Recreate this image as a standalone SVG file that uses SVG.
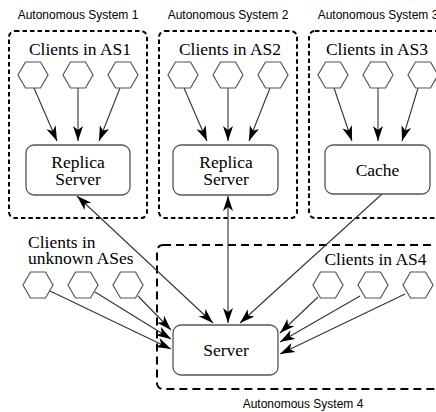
<svg xmlns="http://www.w3.org/2000/svg" xmlns:xlink="http://www.w3.org/1999/xlink" width="436" height="412" viewBox="0 0 436 412">
<style>
.as{fill:none;stroke:#000;stroke-width:2;stroke-dasharray:4.5 3}
.as4{fill:none;stroke:#000;stroke-width:2;stroke-dasharray:8 5}
.cap{font-family:'Liberation Sans',Arial,sans-serif;font-size:12px;fill:#000;text-anchor:middle}
.lbl{font-family:'Liberation Serif','DejaVu Serif',serif;font-size:17.5px;fill:#000}
.box{fill:#fff;stroke:#555;stroke-width:1.3}
.hex{fill:#fff;stroke:#555;stroke-width:1.2}
.t{font-family:'Liberation Serif','DejaVu Serif',serif;font-size:17.5px;fill:#000;text-anchor:middle}
.c{fill:none;stroke:#333;stroke-width:1.1}
.e{marker-end:url(#ah)}
.b{marker-start:url(#ah);marker-end:url(#ah)}
</style>
<defs>
<marker id="ah" markerUnits="userSpaceOnUse" markerWidth="16" markerHeight="11" refX="15" refY="5" orient="auto-start-reverse" viewBox="0 0 16 10">
<path d="M0,0 L15,5 L0,10 L4,5 z" fill="#000"/>
</marker>
<polygon id="hx" class="hex" points="-15,0 -7.5,-13 7.5,-13 15,0 7.5,13 -7.5,13"/>
</defs>
<rect width="436" height="412" fill="#fff"/>

<g id="as1">
<rect class="as" x="9" y="31" width="138" height="187" rx="6"/>
<text class="cap" x="78" y="18.5">Autonomous System 1</text>
</g>
<g id="as2">
<rect class="as" x="159" y="31" width="138" height="187" rx="6"/>
<text class="cap" x="228" y="18.5">Autonomous System 2</text>
</g>
<g id="as3">
<rect class="as" x="309" y="31" width="140" height="187" rx="6"/>
<text class="cap" x="378" y="18.5">Autonomous System 3</text>
</g>
<g id="as4">
<rect class="as4" x="157" y="245" width="300" height="144" rx="6"/>
<text class="cap" x="303" y="408">Autonomous System 4</text>
</g>

<g id="connectors">
<line class="c e" x1="34" y1="88" x2="57" y2="141"/>
<line class="c e" x1="78" y1="88" x2="78" y2="141"/>
<line class="c e" x1="120" y1="88" x2="99" y2="141"/>
<line class="c e" x1="184" y1="88" x2="207" y2="141"/>
<line class="c e" x1="228" y1="88" x2="228" y2="141"/>
<line class="c e" x1="270" y1="88" x2="249" y2="141"/>
<line class="c e" x1="334" y1="88" x2="352" y2="141"/>
<line class="c e" x1="378" y1="88" x2="378" y2="141"/>
<line class="c e" x1="418" y1="88" x2="402" y2="141"/>
<line class="c b" x1="77" y1="196" x2="213" y2="323"/>
<line class="c b" x1="228" y1="196" x2="228" y2="323"/>
<line class="c e" x1="382" y1="194" x2="240" y2="323"/>
<line class="c e" x1="50" y1="291" x2="171" y2="349"/>
<line class="c e" x1="95" y1="292" x2="171" y2="339"/>
<line class="c e" x1="138" y1="296" x2="171" y2="330"/>
<line class="c e" x1="318" y1="297" x2="280" y2="333"/>
<line class="c e" x1="360" y1="296" x2="280" y2="342"/>
<line class="c e" x1="405" y1="294" x2="280" y2="354"/>
</g>

<g id="clients-as1">
<text class="lbl" x="80" y="55" text-anchor="middle">Clients in AS1</text>
<use xlink:href="#hx" x="33" y="75"/>
<use xlink:href="#hx" x="78" y="75"/>
<use xlink:href="#hx" x="123" y="75"/>
</g>
<g id="clients-as2">
<text class="lbl" x="230" y="55" text-anchor="middle">Clients in AS2</text>
<use xlink:href="#hx" x="183" y="75"/>
<use xlink:href="#hx" x="228" y="75"/>
<use xlink:href="#hx" x="273" y="75"/>
</g>
<g id="clients-as3">
<text class="lbl" x="377" y="55" text-anchor="middle">Clients in AS3</text>
<use xlink:href="#hx" x="333" y="75"/>
<use xlink:href="#hx" x="378" y="75"/>
<use xlink:href="#hx" x="423" y="75"/>
</g>
<g id="clients-unknown">
<text class="lbl" x="28" y="248">Clients in</text>
<text class="lbl" x="28" y="264">unknown ASes</text>
<use xlink:href="#hx" x="38" y="285"/>
<use xlink:href="#hx" x="83" y="285"/>
<use xlink:href="#hx" x="128" y="285"/>
</g>
<g id="clients-as4">
<text class="lbl" x="375.5" y="265" text-anchor="middle">Clients in AS4</text>
<use xlink:href="#hx" x="328" y="285"/>
<use xlink:href="#hx" x="373" y="285"/>
<use xlink:href="#hx" x="418" y="285"/>
</g>

<g id="replica1">
<rect class="box" x="26" y="145" width="104" height="50" rx="8"/>
<text class="t" x="78" y="168">Replica</text>
<text class="t" x="78" y="185">Server</text>
</g>
<g id="replica2">
<rect class="box" x="173" y="145" width="105" height="50" rx="8"/>
<text class="t" x="226" y="168">Replica</text>
<text class="t" x="226" y="185">Server</text>
</g>
<g id="cache">
<rect class="box" x="325" y="145" width="105" height="49" rx="8"/>
<text class="t" x="377.5" y="176">Cache</text>
</g>
<g id="server">
<rect class="box" x="173" y="325" width="105" height="50" rx="8"/>
<text class="t" x="226" y="356">Server</text>
</g>
</svg>
